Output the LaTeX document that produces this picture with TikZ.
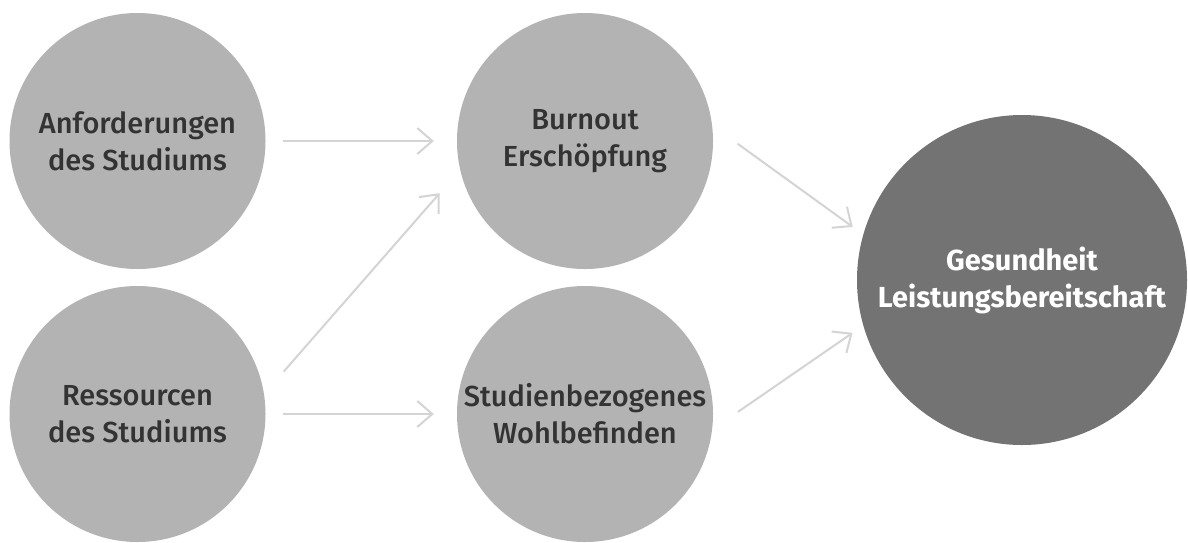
\documentclass[tikz,border=0pt]{standalone}
\usepackage{fontspec}
\setmainfont{Fira Sans Medium}[BoldFont={Fira Sans Bold}]
\usetikzlibrary{arrows.meta}
\definecolor{circlegrey}{HTML}{B3B3B3}
\definecolor{circledark}{HTML}{737373}
\definecolor{textdark}{HTML}{333333}
\definecolor{arrowgrey}{HTML}{D4D4D4}
\begin{document}
\begin{tikzpicture}[x=1pt,y=-1pt,
  ball/.style={circle,fill=circlegrey,draw=none,minimum size=256pt,inner sep=0pt,
    align=center,text=textdark,font=\fontsize{29}{37}\selectfont},
  bigball/.style={circle,fill=circledark,draw=none,minimum size=330pt,inner sep=0pt,
    align=center,text=white,font=\fontsize{29}{37}\selectfont\bfseries},
  link/.style={draw=arrowgrey,line width=2pt,
    -{Straight Barb[length=15pt,width=26pt,line width=2pt]}}]
\useasboundingbox (0,0) rectangle (1188,542);
\fill[white] (0,0) rectangle (1188,542);

\node[ball] (anf) at (137.5,141) {Anforderungen\\des Studiums};
\node[ball] (res) at (137.5,414) {Ressourcen\\des Studiums};
\node[ball] (burn) at (585,141) {Burnout\\Erschöpfung};
\node[ball] (wohl) at (585,414) {Studienbezogenes\\Wohlbefinden};
\node[bigball] (ges) at (1022,280) {Gesundheit\\Leistungsbereitschaft};

\draw[link,shorten <=17pt,shorten >=23pt] (anf.east) -- (burn.west);
\draw[link,shorten <=17pt,shorten >=23pt] (res.east) -- (wohl.west);
\draw[link,shorten <=29.7pt,shorten >=31pt] (res.9.35) -- (burn.193.5);
\draw[link,shorten <=31.2pt,shorten >=12.9pt] (burn.7.8) -- (ges.164);
\draw[link,shorten <=31.2pt,shorten >=12.9pt] (wohl.-7.8) -- (ges.196);
\end{tikzpicture}
\end{document}
